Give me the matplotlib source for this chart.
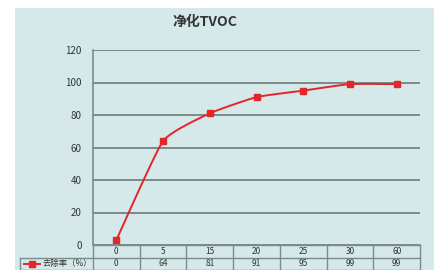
import matplotlib
matplotlib.use("Agg")
import matplotlib.pyplot as plt
import numpy as np
from matplotlib.patches import Rectangle
from matplotlib.lines import Line2D

plt.rcParams['font.family'] = ['Noto Sans CJK SC', 'DejaVu Sans']

# data
times = ["0", "5", "15", "20", "25", "30", "60"]
removal = [3, 64, 81, 91, 95, 99, 99]
table_vals = ["0", "64", "81", "91", "95", "99", "99"]
series_name = "去除率（%）"
title = "净化TVOC"
yticks = [0, 20, 40, 60, 80, 100, 120]

bg = "#d5e8ea"
grid_c = "#7d8a8a"
red = "#e3262a"


def smooth(xs, ys, n=20, c=0.45):
    # cardinal spline, low tension, like excel's smoothed line
    xs = np.asarray(xs, float)
    ys = np.asarray(ys, float)
    px = np.concatenate([[xs[0]], xs, [xs[-1]]])
    py = np.concatenate([[ys[0]], ys, [ys[-1]]])
    t = np.linspace(0, 1, n)
    h00 = 2 * t ** 3 - 3 * t ** 2 + 1
    h10 = t ** 3 - 2 * t ** 2 + t
    h01 = -2 * t ** 3 + 3 * t ** 2
    h11 = t ** 3 - t ** 2
    ox, oy = [], []
    for i in range(1, len(px) - 2):
        for p, o in ((px, ox), (py, oy)):
            m1 = c * (p[i + 1] - p[i - 1]) / 2
            m2 = c * (p[i + 2] - p[i]) / 2
            o.extend(h00 * p[i] + h10 * m1 + h01 * p[i + 1] + h11 * m2)
    return ox, oy


fig = plt.figure(figsize=(4.34, 2.70), dpi=100)
fig.patch.set_facecolor("white")
fig.patches.append(Rectangle((15 / 434, 0), 1 - 15 / 434, 1 - 8 / 270,
                             transform=fig.transFigure, facecolor=bg,
                             edgecolor="none", zorder=-10))

W, H = 434, 270
x0, x1 = 93, 420
y0, y1 = 245, 50
ax = fig.add_axes([x0 / W, (H - y0) / H, (x1 - x0) / W, (y0 - y1) / H])
ax.set_facecolor("none")

xi = np.arange(len(times))
sx, sy = smooth(xi, removal)
ax.plot(sx, sy, color=red, lw=1.4, zorder=3)
ax.plot(xi, removal, ls="none", marker="s", ms=4.5, color=red,
        markeredgecolor=red, zorder=4)

ax.set_xlim(-0.5, len(times) - 0.5)
ax.set_ylim(0, 120)
ax.set_yticks(yticks)
ax.set_yticklabels([str(v) for v in yticks], fontsize=7, color="#333333")
ax.tick_params(axis="y", length=0, pad=8)
ax.set_xticks([])
for v in yticks:
    ax.axhline(v, color=grid_c, lw=0.8 if v == 120 else 1.4, zorder=1)
for s in ["top", "right", "bottom"]:
    ax.spines[s].set_visible(False)
ax.spines["left"].set_color(grid_c)
ax.spines["left"].set_linewidth(1.2)

fig.text(205 / W, 1 - 22 / H, title, ha="center", va="center",
         fontsize=10, fontweight="bold", color="#333333")

# data table under the plot
row_h = 12.5
rows_y = [y0, y0 + row_h, y0 + 2 * row_h]
tlx = 20
tkw = dict(transform=fig.transFigure, color=grid_c, lw=1.0, zorder=5)
for ry in rows_y:
    left = x0 if ry == y0 else tlx
    fig.add_artist(Line2D([left / W, x1 / W], [1 - ry / H, 1 - ry / H], **tkw))
fig.add_artist(Line2D([tlx / W, tlx / W], [1 - rows_y[1] / H, 1 - rows_y[2] / H], **tkw))
cw = (x1 - x0) / len(times)
for i in range(len(times) + 1):
    cx = x0 + i * cw
    fig.add_artist(Line2D([cx / W, cx / W], [1 - y0 / H, 1 - rows_y[2] / H], **tkw))
for i, (t, v) in enumerate(zip(times, table_vals)):
    cx = x0 + (i + 0.5) * cw
    fig.text(cx / W, 1 - (y0 + row_h / 2) / H, t, ha="center", va="center",
             fontsize=6, color="#333333")
    fig.text(cx / W, 1 - (y0 + 1.5 * row_h) / H, v, ha="center", va="center",
             fontsize=6, color="#333333")
ly = 1 - (y0 + 1.5 * row_h) / H
fig.add_artist(Line2D([24 / W, 40 / W], [ly, ly], transform=fig.transFigure,
                      color=red, lw=1.4, zorder=6))
fig.add_artist(Line2D([32 / W], [ly], transform=fig.transFigure, color=red,
                      marker="s", ms=4, zorder=6))
fig.text(43 / W, ly, series_name, ha="left", va="center", fontsize=6,
         color="#333333")

fig.savefig("out.png", dpi=100, facecolor=fig.get_facecolor())
